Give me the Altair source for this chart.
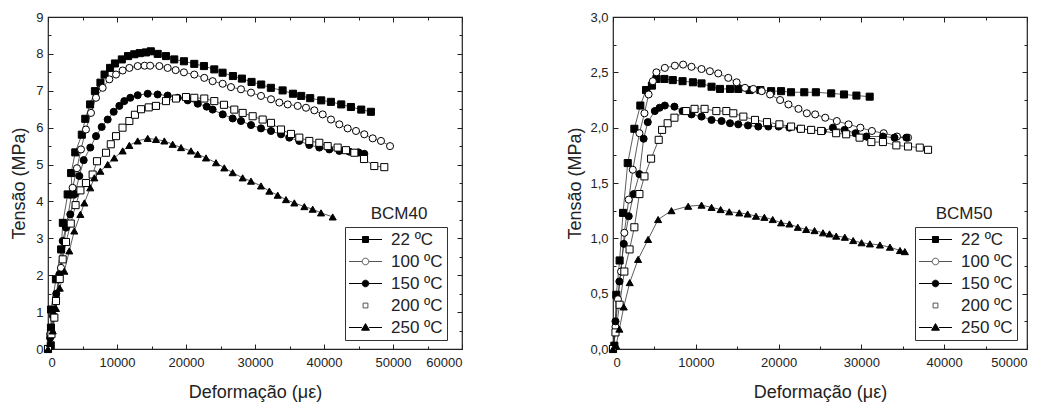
import altair as alt
import pandas as pd

W, H = 414, 332
FONT = "Liberation Sans"
INK = "#222222"

series = ["22 ºC", "100 ºC", "150 ºC", "200 ºC", "250 ºC"]
shapes = ["square", "circle", "circle", "square", "triangle-up"]
fills = ["black", "white", "black", "white", "black"]
strokes = ["black", "#555555", "black", "#555555", "black"]
legend_paths = [
    "M-5.5,0H-1M1,0H5.5M-1,-1H1V1H-1Z",
    "M-5.5,0H-1.1M1.1,0H5.5M-1.1,0A1.1,1.1 0 1,0 1.1,0A1.1,1.1 0 1,0 -1.1,0Z",
    "M-5.5,0H-1.1M1.1,0H5.5M-1.1,0A1.1,1.1 0 1,0 1.1,0A1.1,1.1 0 1,0 -1.1,0Z",
    "M-0.8,-0.8H0.8V0.8H-0.8Z",
    "M-5.5,0H-1.2M1.2,0H5.5M0,-1.3L1.3,0.9L-1.3,0.9Z",
]

# ---------------- BCM40 ----------------
b40_22_x = [0, 400, 430, 450, 1150, 1900, 2150, 2850, 3500, 3350, 3950, 4900, 5400, 6100, 6800, 7600, 8200, 9000, 9700, 10700,
            11600, 12500, 13300, 14200, 14900, 15900, 17100, 18300, 19700, 21200, 22600, 24100, 25300, 26800, 28100,
            29500, 30900, 32300, 34000, 35500, 36700, 38000, 39600, 41000, 42500, 43900, 45400, 46800]
b40_22_y = [0, 0.1, 0.58, 1.07, 1.89, 2.70, 3.42, 4.19, 4.19, 4.77, 5.33, 5.81, 6.24, 6.63, 6.99, 7.22, 7.44, 7.62, 7.74, 7.85,
            7.94, 7.99, 8.02, 8.04, 8.07, 8.0, 7.94, 7.85, 7.80, 7.73, 7.67, 7.58, 7.49, 7.40, 7.33,
            7.24, 7.17, 7.08, 7.01, 6.92, 6.86, 6.80, 6.74, 6.70, 6.63, 6.56, 6.49, 6.43]
b40_100_x = [0, 300, 700, 1160, 1880, 2610, 3570, 4200, 4780, 5500, 6230, 6960, 7920, 8890, 9860, 10820, 11790, 13000,
             14000, 14800, 16140, 17340, 18500, 19700, 21200, 22650, 23860, 25310, 26520, 27970, 29420, 30870, 32320,
             33530, 34740, 36190, 37390, 38600, 39810, 41010, 42220, 43430, 44640, 45840, 47060, 48260, 49570]
b40_100_y = [0, 0.4, 0.9, 1.39, 2.2, 3.29, 4.37, 4.9, 5.41, 5.95, 6.4, 6.81, 7.08, 7.31, 7.44, 7.55, 7.62, 7.67,
             7.68, 7.68, 7.67, 7.62, 7.56, 7.50, 7.44, 7.35, 7.26, 7.19, 7.10, 7.04, 6.95, 6.86, 6.77,
             6.68, 6.63, 6.59, 6.54, 6.47, 6.36, 6.22, 6.09, 5.98, 5.91, 5.82, 5.71, 5.64, 5.50]
b40_150_x = [0, 300, 800, 1200, 1640, 2130, 2600, 3230, 3900, 4540, 5170, 6130, 6960, 7780, 8650, 9520, 10340, 11060,
             11930, 13000, 14450, 15890, 17340, 18800, 20250, 21700, 23000, 23860, 25320, 26760, 27970, 29420, 30870,
             32320, 33770, 34970, 36420, 37870, 39320, 40770, 42220, 43670, 45000, 45840]
b40_150_y = [0, 0.3, 0.9, 1.5, 2.02, 2.93, 3.3, 3.65, 4.2, 4.69, 5.12, 5.46, 5.77, 6.02, 6.22, 6.43, 6.59, 6.72,
             6.81, 6.88, 6.92, 6.90, 6.87, 6.81, 6.74, 6.65, 6.57, 6.49, 6.36, 6.25, 6.18, 6.07, 5.98,
             5.91, 5.82, 5.73, 5.64, 5.53, 5.46, 5.41, 5.37, 5.35, 5.33, 5.29]
b40_200_x = [0, 500, 920, 1160, 1700, 2130, 2610, 3300, 4000, 4700, 5500, 6470, 7100, 8410, 9100, 9860, 10800, 11790,
             12600, 13480, 14600, 15650, 17100, 18550, 20000, 21200, 22650, 24100, 25500, 27000, 28210, 29660, 31110,
             32320, 33770, 35220, 36420, 37870, 39320, 40530, 41980, 43190, 44400, 45800, 47290, 48740]
b40_200_y = [0, 0.4, 0.85, 1.3, 1.9, 2.43, 2.9, 3.4, 3.9, 4.3, 4.5, 4.73, 5.09, 5.32, 5.55, 5.77, 6.0, 6.18,
             6.35, 6.50, 6.55, 6.59, 6.72, 6.79, 6.83, 6.81, 6.79, 6.72, 6.62, 6.49, 6.40, 6.31, 6.22,
             6.13, 5.95, 5.83, 5.73, 5.64, 5.59, 5.50, 5.46, 5.39, 5.32, 5.15, 4.96, 4.93]
b40_250_x = [0, 300, 680, 1160, 1700, 2370, 3090, 3810, 4690, 5270, 6130, 6710, 7590, 8650, 9610, 10820, 11790, 13000,
             14450, 15650, 16860, 18070, 19280, 20720, 21700, 22900, 24350, 25550, 26760, 28210, 29420, 30870, 32080,
             33290, 34490, 35700, 37150, 38360, 39570, 41260]
b40_250_y = [0, 0.15, 0.49, 1.1, 1.65, 2.11, 2.66, 3.20, 3.65, 3.96, 4.37, 4.64, 4.82, 5.00, 5.18, 5.37, 5.52, 5.64,
             5.71, 5.68, 5.64, 5.55, 5.46, 5.37, 5.28, 5.18, 5.05, 4.91, 4.78, 4.64, 4.55, 4.42, 4.28,
             4.17, 4.05, 3.96, 3.86, 3.79, 3.69, 3.58]

# ---------------- BCM50 ----------------
b50_22_x = [0, 160, 400, 800, 1210, 1780, 2580, 3300, 3990, 4700, 5240, 6210, 7220, 8400, 9650, 10690, 11900, 12920,
            14130, 15130, 16500, 17800, 19100, 20300, 21500, 23100, 24500, 26350, 27900, 29400, 31000]
b50_22_y = [0, 0.03, 0.49, 0.8, 1.23, 1.68, 1.99, 2.2, 2.34, 2.38, 2.44, 2.44, 2.43, 2.42, 2.41, 2.40, 2.37, 2.35,
            2.35, 2.35, 2.34, 2.34, 2.33, 2.33, 2.32, 2.32, 2.32, 2.31, 2.30, 2.29, 2.28]
b50_100_x = [0, 300, 600, 970, 1370, 1900, 2390, 3190, 3800, 4300, 4810, 5240, 6260, 7470, 8470, 9480, 10690, 11700,
             12710, 13920, 14930, 15940, 16950, 17960, 18970, 20180, 21190, 22400, 23410, 24420, 25630, 27030, 28450,
             29870, 31270, 32690, 34300, 35630]
b50_100_y = [0, 0.2, 0.45, 0.70, 1.05, 1.35, 1.62, 1.95, 2.13, 2.3, 2.42, 2.50, 2.54, 2.56, 2.57, 2.55, 2.53, 2.51,
             2.49, 2.45, 2.41, 2.36, 2.35, 2.33, 2.30, 2.25, 2.21, 2.17, 2.13, 2.12, 2.09, 2.06, 2.03,
             2.00, 1.97, 1.95, 1.92, 1.91]
b50_150_x = [0, 300, 770, 1300, 1900, 2500, 3190, 3700, 4200, 5050, 5620, 6260, 7420, 8400, 9480, 10690, 11900, 13110,
             14130, 15130, 16300, 17550, 18760, 20000, 21300, 22600, 23900, 25340, 26560, 27970, 29300, 30600, 32600,
             34000, 35430]
b50_150_y = [0, 0.25, 0.61, 0.95, 1.2, 1.4, 1.58, 1.9, 2.05, 2.15, 2.18, 2.20, 2.19, 2.15, 2.12, 2.10, 2.07, 2.06,
             2.04, 2.03, 2.02, 2.01, 2.01, 2.01, 2.00, 1.99, 1.98, 1.97, 2.00, 1.98, 1.95, 1.92, 1.92,
             1.91, 1.91]
b50_200_x = [0, 300, 800, 1370, 2000, 2580, 3190, 3800, 4600, 5520, 5930, 6600, 7420, 8840, 9850, 11060, 12480, 13690,
             14530, 15740, 17150, 18600, 20100, 21510, 22700, 23930, 25140, 26950, 28160, 29780, 31200, 32600, 34220,
             35630, 37050, 38050]
b50_200_y = [0, 0.15, 0.4, 0.70, 0.9, 1.10, 1.40, 1.56, 1.72, 1.89, 1.98, 2.04, 2.09, 2.15, 2.17, 2.17, 2.15, 2.15,
             2.13, 2.10, 2.07, 2.05, 2.03, 2.01, 1.99, 1.98, 1.97, 1.95, 1.94, 1.91, 1.87, 1.87, 1.84,
             1.83, 1.82, 1.80]
b50_250_x = [0, 370, 770, 1300, 2020, 3030, 4240, 5450, 7060, 9080, 10690, 11900, 13000, 14040, 15250, 16260, 17270,
             18280, 19290, 20300, 21310, 22320, 23330, 24340, 25360, 26150, 26960, 28000, 29010, 30020, 31030, 32240,
             33450, 34660, 35250]
b50_250_y = [0, 0.03, 0.18, 0.38, 0.60, 0.81, 0.99, 1.17, 1.25, 1.29, 1.30, 1.28, 1.26, 1.24, 1.23, 1.22, 1.20,
             1.19, 1.17, 1.14, 1.13, 1.10, 1.08, 1.07, 1.05, 1.04, 1.02, 1.01, 0.98, 0.96, 0.95, 0.94,
             0.92, 0.89, 0.88]

# axis ticks
b40_x_major = [0, 10000, 20000, 30000, 40000, 50000, 60000]
b40_x_minor = [5000, 15000, 25000, 35000, 45000, 55000]
b40_y_major = [0, 1, 2, 3, 4, 5, 6, 7, 8, 9]
b40_y_minor = [0.5, 1.5, 2.5, 3.5, 4.5, 5.5, 6.5, 7.5, 8.5]
b50_x_major = [0, 10000, 20000, 30000, 40000, 50000]
b50_x_minor = [5000, 15000, 25000, 35000, 45000]
b50_y_major = [0, 0.5, 1.0, 1.5, 2.0, 2.5, 3.0]
b50_y_minor = [0.25, 0.75, 1.25, 1.75, 2.25, 2.75]


def build_df(xs_list, ys_list):
    rows = []
    for name, xs, ys in zip(series, xs_list, ys_list):
        for i, (xv, yv) in enumerate(zip(xs, ys)):
            rows.append({"series": name, "x": xv, "y": yv, "i": i})
    return pd.DataFrame(rows)


df40 = build_df([b40_22_x, b40_100_x, b40_150_x, b40_200_x, b40_250_x],
                [b40_22_y, b40_100_y, b40_150_y, b40_200_y, b40_250_y])
df50 = build_df([b50_22_x, b50_100_x, b50_150_x, b50_200_x, b50_250_x],
                [b50_22_y, b50_100_y, b50_150_y, b50_200_y, b50_250_y])


def panel(df, xdom, ydom, xmaj, xmin, ymaj, ymin, ylabel_expr, ytitle_pad, label, legend_x):
    xs = alt.Scale(domain=xdom, nice=False, zero=True)
    ys = alt.Scale(domain=ydom, nice=False, zero=True)
    base = alt.Chart(df)

    lines = base.mark_line(color="#333333", strokeWidth=0.8).encode(
        x=alt.X("x:Q", scale=xs, axis=alt.Axis(
            orient="bottom", values=xmaj, format="d", tickSize=0, labelPadding=7,
            labelFontSize=13, title="Deformação (με)", titleFontSize=18, titlePadding=14,
            domain=False, grid=False)),
        y=alt.Y("y:Q", scale=ys, axis=alt.Axis(
            orient="left", values=ymaj, labelExpr=ylabel_expr, tickSize=0, labelPadding=5,
            labelFontSize=13, title="Tensão (MPa)", titleFontSize=18, titlePadding=ytitle_pad,
            domain=False, grid=False)),
        detail="series:N",
        order="i:Q",
    )
    points = base.mark_point(opacity=1, stroke="black", strokeWidth=1, size=50).encode(
        x=alt.X("x:Q", scale=xs, axis=None),
        y=alt.Y("y:Q", scale=ys, axis=None),
        shape=alt.Shape("series:N", scale=alt.Scale(domain=series, range=shapes), legend=None),
        fill=alt.Fill("series:N", scale=alt.Scale(domain=series, range=fills), legend=None),
    )

    def ticks(xo, yo, xv, yv, size):
        return base.mark_point(opacity=0).encode(
            x=alt.X("x:Q", scale=xs, axis=alt.Axis(orient=xo, offset=-H, values=xv, tickSize=size,
                                                   labels=False, domain=False, grid=False, title=None)),
            y=alt.Y("y:Q", scale=ys, axis=alt.Axis(orient=yo, offset=-W, values=yv, tickSize=size,
                                                   labels=False, domain=False, grid=False, title=None)),
        )

    leg = alt.Legend(
        orient="none", legendX=legend_x, legendY=210, title=None, strokeColor="#333333",
        padding=4, symbolSize=36, symbolStrokeWidth=1, symbolOpacity=1,
        labelFontSize=17, labelFont=FONT, labelColor=INK, rowPadding=4, symbolOffset=8,
        labelOffset=17, fillColor="white",
    )
    legend_layer = alt.Chart(pd.DataFrame({"series": series})).mark_point(
        opacity=0, strokeWidth=1).encode(
        shape=alt.Shape("series:N", scale=alt.Scale(domain=series, range=legend_paths), legend=leg),
        fill=alt.Fill("series:N", scale=alt.Scale(domain=series, range=fills), legend=leg),
        stroke=alt.Stroke("series:N", scale=alt.Scale(domain=series, range=strokes), legend=leg),
    )
    text = alt.Chart(pd.DataFrame({"t": [label]})).mark_text(
        fontSize=17, font=FONT, color=INK).encode(
        x=alt.value(351), y=alt.value(197), text="t:N")

    return alt.layer(
        lines, points,
        ticks("top", "right", xmaj, ymaj, 5),
        ticks("top", "right", xmin, ymin, 3),
        ticks("bottom", "left", xmaj, ymaj, 5),
        ticks("bottom", "left", xmin, ymin, 3),
        legend_layer, text,
    ).resolve_scale(shape="independent", fill="independent", stroke="independent").resolve_axis(
        x="independent", y="independent").properties(width=W, height=H)


left = panel(df40, [0, 60000], [0, 9], b40_x_major, b40_x_minor, b40_y_major, b40_y_minor,
             "format(datum.value, 'd')", 7, "BCM40", 297)
right = panel(df50, [0, 50000], [0, 3], b50_x_major, b50_x_minor, b50_y_major, b50_y_minor,
              "replace(format(datum.value, '.1f'), '.', ',')", 5, "BCM50", 302)

chart = alt.hconcat(left, right, spacing=102).properties(
    padding={"left": 10, "top": 10, "right": 5, "bottom": 0},
    background="white",
).configure_view(stroke="#222222", strokeWidth=1.2).configure_axis(
    labelFont=FONT, titleFont=FONT, labelColor=INK, titleColor=INK,
    titleFontWeight="normal", tickColor=INK, tickWidth=1,
)

chart.save("out.html", embed_options={"renderer": "svg", "actions": False})
